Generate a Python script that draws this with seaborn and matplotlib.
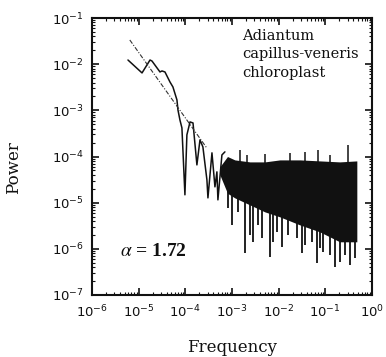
import numpy as np
import pandas as pd
import matplotlib
matplotlib.use("Agg")
import matplotlib.pyplot as plt
import seaborn as sns

# ---- data ----
# low-frequency part of the spectrum (single line)
line_freq = [5.90e-6, 1.18e-5, 1.75e-5, 1.93e-5, 2.86e-5, 3.16e-5, 3.66e-5, 4.68e-5,
             5.42e-5, 6.61e-5, 6.95e-5, 7.66e-5, 8.45e-5, 9.80e-5, 1.08e-4, 1.26e-4,
             1.46e-4, 1.77e-4, 2.06e-4, 2.38e-4, 2.90e-4, 3.05e-4, 3.72e-4, 4.31e-4,
             4.75e-4, 4.99e-4, 6.08e-4, 7.05e-4]
line_power = [1.23e-2, 6.46e-3, 1.23e-2, 1.17e-2, 6.78e-3, 7.13e-3, 6.78e-3, 4.12e-3,
              3.21e-3, 1.68e-3, 1.02e-3, 6.19e-4, 4.16e-4, 1.48e-5, 2.94e-4, 5.61e-4,
              5.33e-4, 6.58e-5, 2.29e-4, 1.61e-4, 3.12e-5, 1.27e-5, 1.20e-4, 2.20e-5,
              4.65e-5, 1.15e-5, 1.08e-4, 1.26e-4]

# dense high-frequency part: envelope of the solid body
band_freq = [5.50e-4, 8.00e-4, 1.15e-3, 2.42e-3, 5.06e-3, 1.06e-2, 2.85e-2, 7.62e-2, 0.204, 0.473]
band_top = [6.00e-5, 1.00e-4, 8.44e-5, 7.64e-5, 7.64e-5, 8.44e-5, 8.44e-5, 8.03e-5, 7.64e-5, 8.03e-5]
band_bottom = [4.00e-5, 1.60e-5, 1.27e-5, 8.95e-6, 6.32e-6, 4.93e-6, 3.30e-6, 2.33e-6, 1.42e-6, 1.42e-6]

# downward spikes below the body
spike_freq = [8.17e-4, 9.95e-4, 1.34e-3, 1.89e-3, 2.42e-3, 2.81e-3, 3.59e-3, 4.37e-3,
              6.49e-3, 7.52e-3, 9.15e-3, 1.17e-2, 1.57e-2, 2.45e-2, 3.14e-2, 3.64e-2,
              5.14e-2, 6.58e-2, 7.62e-2, 8.83e-2, 0.125, 0.160, 0.204, 0.262, 0.335, 0.428]
spike_power = [7.71e-6, 3.30e-6, 6.32e-6, 8.18e-7, 2.01e-6, 1.42e-6, 3.30e-6, 1.73e-6,
               6.71e-7, 1.42e-6, 2.33e-6, 1.10e-6, 2.01e-6, 1.73e-6, 8.18e-7, 1.22e-6,
               1.42e-6, 4.98e-7, 1.05e-6, 8.61e-7, 7.41e-7, 4.07e-7, 5.24e-7, 7.41e-7,
               4.51e-7, 6.38e-7]

# upward spikes above the body
peak_freq = [1.48e-3, 2.08e-3, 5.06e-3, 1.74e-2, 3.64e-2, 6.90e-2, 0.125, 0.303]
peak_power = [1.39e-4, 1.08e-4, 1.14e-4, 1.20e-4, 1.26e-4, 1.39e-4, 1.08e-4, 1.78e-4]

# fitted power law (dash-dot line)
fit_freq = [6.46e-6, 2.88e-4]
fit_power = [3.34e-2, 1.53e-4]

x_ticks = [1e-6, 1e-5, 1e-4, 1e-3, 1e-2, 1e-1, 1e0]
y_ticks = [1e-7, 1e-6, 1e-5, 1e-4, 1e-3, 1e-2, 1e-1]

label_text = "Adiantum\ncapillus-veneris\nchloroplast"
alpha_text = r"$\alpha$ = 1.72"

# ---- figure ----
sns.set_theme(style="ticks")
plt.rcParams["font.family"] = ["DejaVu Sans"]

fig = plt.figure(figsize=(3.86, 3.57), dpi=100)
ax = fig.add_axes([92 / 386, 1 - 295 / 357, 280 / 386, 277 / 357])
ax.set_xscale("log")
ax.set_yscale("log")

ink = "#111111"

# dense body
ax.fill_between(band_freq, band_bottom, band_top, color=ink, lw=0)
ax.vlines(spike_freq, spike_power, 3e-5, color=ink, lw=1.3)
ax.vlines(peak_freq, 5e-5, peak_power, color=ink, lw=1.1)

df_line = pd.DataFrame({"f": line_freq, "p": line_power})
sns.lineplot(data=df_line, x="f", y="p", ax=ax, color=ink, lw=1.1, sort=False)

df_fit = pd.DataFrame({"f": fit_freq, "p": fit_power})
sns.lineplot(data=df_fit, x="f", y="p", ax=ax, color="#333333", lw=0.8,
             linestyle=(0, (4, 1.5, 1, 1.5)))

ax.set_xlim(1e-6, 1e0)
ax.set_ylim(1e-7, 1e-1)
ax.set_xticks(x_ticks)
ax.set_yticks(y_ticks)
ax.xaxis.set_minor_locator(matplotlib.ticker.LogLocator(base=10, subs=np.arange(2, 10), numticks=20))
ax.yaxis.set_minor_locator(matplotlib.ticker.LogLocator(base=10, subs=np.arange(2, 10), numticks=20))
ax.xaxis.set_minor_formatter(matplotlib.ticker.NullFormatter())
ax.yaxis.set_minor_formatter(matplotlib.ticker.NullFormatter())

ax.tick_params(which="both", direction="in", top=True, right=True, colors=ink,
               labelsize=9.5, labelcolor=ink)
ax.tick_params(which="major", length=5, width=1.2, pad=6)
ax.tick_params(which="minor", length=2.5, width=0.8)
for s in ax.spines.values():
    s.set_linewidth(1.5)
    s.set_color(ink)

ax.set_xlabel("")
ax.set_ylabel("")
fig.text(232 / 386, 1 - 347 / 357, "Frequency", ha="center", va="center",
         family="DejaVu Serif", fontsize=12, color=ink)
fig.text(14 / 386, 1 - 168 / 357, "Power", ha="center", va="center", rotation=90,
         family="DejaVu Serif", fontsize=12, color=ink)

ax.text(242 / 386, 1 - 29 / 357, label_text, transform=fig.transFigure, ha="left", va="top",
        family="DejaVu Serif", fontsize=10.5, color=ink, linespacing=1.4)
t = ax.text(120 / 386, 1 - 251 / 357, alpha_text, transform=fig.transFigure, ha="left",
            va="center", fontsize=14, color=ink, family="Liberation Serif", weight="bold")
t.set_math_fontfamily("stix")

fig.savefig("out.png", dpi=100)
